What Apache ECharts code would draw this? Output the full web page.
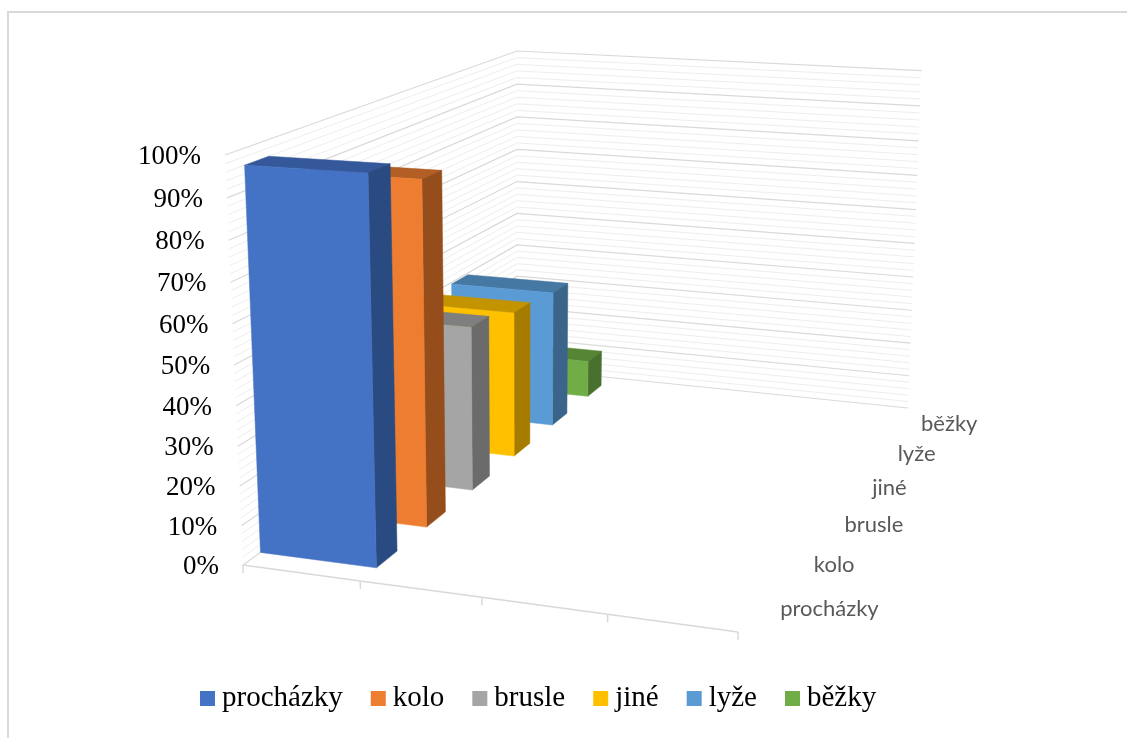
<!DOCTYPE html>
<html><head><meta charset="utf-8">
<style>html,body{margin:0;padding:0;background:#fff}#c{width:1127px;height:738px}</style>
<script src="https://cdn.jsdelivr.net/npm/echarts@6/dist/echarts.min.js"></script>
</head><body><div id="c"></div>
<script>
const categories = ['procházky','kolo','brusle','jiné','lyže','běžky'];
const values = [96, 89, 44.5, 41, 39.5, 11];
const yTicks = [0,10,20,30,40,50,60,70,80,90,100];
const minorGrid = [2,4,6,8,12,14,16,18,22,24,26,28,32,34,36,38,42,44,46,48,52,54,56,58,62,64,66,68,72,74,76,78,82,84,86,88,92,94,96,98];
const frontTicks = [0,1,2,3,4];
const frontColors = ['#4472C4','#ED7D31','#A5A5A5','#FFC000','#5B9BD5','#70AD47'];
const sideColors = ['#2A4A82','#954D1B','#6B6B6B','#A67C00','#3A6489','#48702E'];
const topColors = ['#34589A','#B25E24','#7F7F7F','#C49400','#4678A4','#568536'];

// camera: where the corners of the 3D box fall on the page
const floorQuad = [[243,565],[738,632],[908,408],[517,368]];
const ceilQuad = [[225,155],[748,187],[921.5,70.7],[517,51]];
const persp = 1.05, barGap = 0.3;

function squareToQuad(q){
  const [x0,y0]=q[0],[x1,y1]=q[1],[x2,y2]=q[2],[x3,y3]=q[3];
  const dx1=x1-x2,dx2=x3-x2,sx=x0-x1+x2-x3,dy1=y1-y2,dy2=y3-y2,sy=y0-y1+y2-y3;
  const den=dx1*dy2-dx2*dy1;
  const g=(sx*dy2-dx2*sy)/den,h=(dx1*sy-sx*dy1)/den;
  return [x1-x0+g*x1,x3-x0+h*x3,x0,y1-y0+g*y1,y3-y0+h*y3,y0,g,h];
}
const H0=squareToQuad(floorQuad),H1=squareToQuad(ceilQuad);
function warp(H,u,v){const w=H[6]*u+H[7]*v+1;return [(H[0]*u+H[1]*v+H[2])/w,(H[3]*u+H[4]*v+H[5])/w];}
function project(api,cs,xv,depth,val){
  const p=api.coord([xv,val]);
  const u=(p[0]-cs.x)/cs.width,t=1-(p[1]-cs.y)/cs.height,v=depth/categories.length;
  const w=t/(t+(1-t)*persp);
  const a=warp(H0,u,v),b=warp(H1,u,v);
  return [a[0]+(b[0]-a[0])*w,a[1]+(b[1]-a[1])*w];
}
const serif='"Liberation Serif","Times New Roman",serif';

const barSeries = categories.map((name,i)=>({
  type:'custom',name,coordinateSystem:'cartesian2d',clip:false,z:20-i,silent:true,
  itemStyle:{color:frontColors[i]},
  data:[[i,values[i]]],
  renderItem(params,api){
    const cs=params.coordSys,val=api.value(1),k=api.value(0);
    const P=(x,d,y)=>project(api,cs,x,d,y);
    const z0=k+barGap,z1=k+1-barGap;
    const poly=(pts,fill)=>({type:'polygon',shape:{points:pts},style:{fill,stroke:fill,lineWidth:0.5}});
    return {type:'group',children:[
      poly([P(0,z0,val),P(1,z0,val),P(1,z1,val),P(0,z1,val)],topColors[k]),
      poly([P(1,z0,0),P(1,z1,0),P(1,z1,val),P(1,z0,val)],sideColors[k]),
      poly([P(0,z0,0),P(1,z0,0),P(1,z0,val),P(0,z0,val)],frontColors[k])
    ]};
  }
}));

const wall=(list,color,lw,z)=>({
  type:'custom',coordinateSystem:'cartesian2d',clip:false,silent:true,z,
  data:list.map(v=>[0,v]),
  renderItem(params,api){
    const cs=params.coordSys,y=api.value(1),n=categories.length;
    return {type:'polyline',shape:{points:[project(api,cs,0,0,y),project(api,cs,0,n,y),project(api,cs,4,n,y)]},
      style:{stroke:color,lineWidth:lw,fill:null}};
  }
});

const option={
  animation:false,backgroundColor:'#fff',
  grid:{show:true,outerBoundsMode:'none',left:8,top:12,width:1300,height:900,borderColor:'#D9D9D9',borderWidth:2,backgroundColor:'transparent'},
  xAxis:{type:'value',min:0,max:4,show:false},
  yAxis:{type:'value',min:0,max:100,show:false},
  legend:{data:categories,icon:'rect',left:195,top:679,itemWidth:15,itemHeight:15,itemGap:28,
    textStyle:{fontFamily:serif,fontSize:29,color:'#000',padding:[2,0,0,2]}},
  series:[
    wall(minorGrid,'#EEEEEE',1,1),
    wall(yTicks,'#D9D9D9',1.2,2),
    {type:'custom',coordinateSystem:'cartesian2d',clip:false,silent:true,z:3,
     data:frontTicks.map(t=>[t,0]),
     renderItem(params,api){
       const cs=params.coordSys,t=api.value(0);
       const p=project(api,cs,t,0,0);
       const kids=[{type:'line',shape:{x1:p[0],y1:p[1],x2:p[0],y2:p[1]+8},style:{stroke:'#D9D9D9',lineWidth:1.5}}];
       if(t<4){const q=project(api,cs,t+1,0,0);kids.push({type:'line',shape:{x1:p[0],y1:p[1],x2:q[0],y2:q[1]},style:{stroke:'#D9D9D9',lineWidth:1.5}});}
       return {type:'group',children:kids};
     }},
    {type:'custom',coordinateSystem:'cartesian2d',clip:false,silent:true,z:30,
     data:yTicks.map(v=>[0,v]),
     renderItem(params,api){
       const v=api.value(1),p=project(api,params.coordSys,0,0,v);
       return {type:'text',style:{text:v+'%',x:p[0]-24,y:p[1]+2,align:'right',verticalAlign:'middle',fontFamily:serif,fontSize:27,fill:'#000'}};
     }},
    {type:'custom',coordinateSystem:'cartesian2d',clip:false,silent:true,z:30,
     data:categories.map((c,i)=>[4,i]),
     renderItem(params,api){
       const i=api.value(1),p=project(api,params.coordSys,4,i+0.5,0);
       return {type:'text',style:{text:categories[i],x:p[0]+24,y:p[1]+1,align:'left',verticalAlign:'middle',fontFamily:'Lato,"Noto Sans",sans-serif',fontSize:22,fill:'#595959'}};
     }},
    ...barSeries
  ]
};
echarts.init(document.getElementById('c'),null,{renderer:'canvas'}).setOption(option);
</script></body></html>
